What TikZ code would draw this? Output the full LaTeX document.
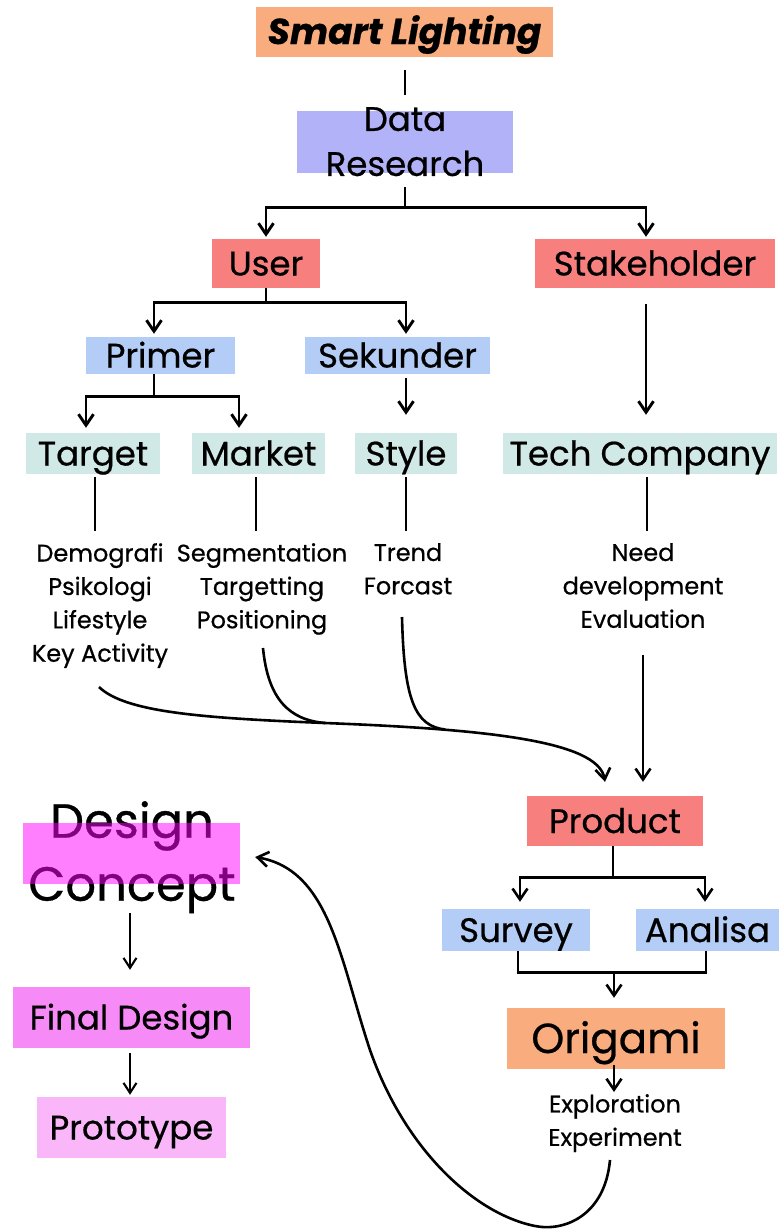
\documentclass[tikz,border=0pt]{standalone}
\usepackage{fontspec}
\setmainfont{Poppins}[FakeBold=0.6]
\usetikzlibrary{arrows.meta,calc}

\definecolor{peach}{HTML}{F9AC7E}
\definecolor{lavender}{HTML}{B2B2F8}
\definecolor{salmon}{HTML}{F77F7E}
\definecolor{skyblue}{HTML}{B3CDF7}
\definecolor{paleteal}{HTML}{D0E8E6}
\definecolor{vividpink}{RGB}{255,0,255}
\definecolor{finalpink}{HTML}{F68AF6}
\definecolor{protopink}{HTML}{F9B7F9}

\begin{document}
\begin{tikzpicture}[x=1pt,y=-1pt,
  box/.style={inner sep=0pt, font=\fontsize{34}{40}\selectfont,
              text height=24pt, text depth=0pt},
  listtext/.style={inner sep=0pt, anchor=north, align=center,
              font=\fontsize{24}{33.4}\selectfont},
  wire/.style={line width=2.6pt},
  topwire/.style={line width=2.9pt},
  tip/.style={-{Straight Barb[length=11pt,width=15pt]}},
  arr/.style={wire, tip},
  toparr/.style={topwire, tip},
  thinarr/.style={line width=2.1pt, -{Straight Barb[length=10pt,width=13pt]}}
]
\useasboundingbox[fill=white] (0,0) rectangle (779,1229);

% ---------- title and research ----------
\node[box, fill=peach, minimum width=297pt, minimum height=50pt,
      font=\fontsize{36}{40}\selectfont\bfseries\itshape] (sl) at (404.5,32) {Smart Lighting};
\node[inner sep=0pt, fill=lavender, minimum width=216pt, minimum height=62pt] (dr) at (405,142) {};
\node[listtext, font=\fontsize{34}{45}\selectfont] (drt) at (405,107) {Data\\Research};

% ---------- user / stakeholder ----------
\node[box, fill=salmon, minimum width=108pt, minimum height=49pt] (user) at (266,263.5) {User};
\node[box, fill=salmon, minimum width=240pt, minimum height=49pt] (stake) at (655,263.5) {Stakeholder};

\node[box, fill=skyblue, minimum width=149pt, minimum height=37pt] (primer) at (160.5,355.5) {Primer};
\node[box, fill=skyblue, minimum width=185pt, minimum height=37pt] (sek) at (397.5,355.5) {Sekunder};

\node[box, fill=paleteal, minimum width=134pt, minimum height=41pt] (target) at (93,453.5) {Target};
\node[box, fill=paleteal, minimum width=133pt, minimum height=41pt] (market) at (258.5,453.5) {Market};
\node[box, fill=paleteal, minimum width=102pt, minimum height=41pt] (style) at (406,453.5) {Style};
\node[box, fill=paleteal, minimum width=274pt, minimum height=41pt] (tech) at (640,453.5) {Tech Company};

\node[listtext] (demo) at (100,543) {Demografi\\Psikologi\\Lifestyle\\Key Activity};
\node[listtext] (seg) at (262,543) {Segmentation\\Targetting\\Positioning};
\node[listtext] (trend) at (408,543) {Trend\\Forcast};
\node[listtext] (need) at (643,543) {Need\\development\\Evaluation};

% ---------- product branch ----------
\node[box, fill=salmon, minimum width=176pt, minimum height=50pt] (product) at (615,821) {Product};
\node[box, fill=skyblue, minimum width=148pt, minimum height=42pt] (survey) at (516,930) {Survey};
\node[box, fill=skyblue, minimum width=143pt, minimum height=42pt] (analisa) at (707.5,930) {Analisa};
\node[box, fill=peach, minimum width=218pt, minimum height=61pt,
      font=\fontsize{42}{48}\selectfont, text height=29pt] (origami) at (616,1038.5) {Origami};
\node[listtext] (explo) at (615,1094) {Exploration\\Experiment};

% ---------- design column ----------
\node[listtext, font=\fontsize{48}{63}\selectfont] (dct) at (132,801) {Design\\Concept};
\node[inner sep=0pt, fill=vividpink, fill opacity=0.5, minimum width=217pt, minimum height=61pt] (dc) at (131.5,853.5) {};
\node[box, fill=finalpink, minimum width=237pt, minimum height=61pt,
      font=\fontsize{34}{40}\selectfont] (fd) at (131.5,1017.5) {Final Design};
\node[box, fill=protopink, minimum width=189pt, minimum height=61pt,
      font=\fontsize{34}{40}\selectfont] (proto) at (131.5,1127.5) {Prototype};

% ---------- connectors: upper tree ----------
\draw[topwire] ($(sl.south)+(0.5,13)$) -- ($(dr.north)+(0,-16)$);
\coordinate (f1) at ($(dr.south)+(0,34)$);
\draw[topwire] ($(dr.south)+(0,14)$) -- (f1);
\draw[toparr] (f1) -| ($(user.north)+(0,-2)$);
\draw[toparr] (f1) -| ($(stake.north)+(-9,-2)$);

\coordinate (f2) at ($(user.south)+(0,14)$);
\draw[topwire] (user.south) -- (f2);
\draw[toparr] (f2) -| ($(primer.north)+(-6.5,-3)$);
\draw[toparr] (f2) -| ($(sek.north)+(8.5,-3)$);

\draw[toparr] ($(stake.south)+(-9,16)$) -- ($(tech.north)+(6,-18)$);

\coordinate (f3) at ($(primer.south)+(-6.5,22)$);
\draw[topwire] ($(primer.south)+(-6.5,0)$) -- (f3);
\draw[toparr] (f3) -| ($(target.north)+(-7,-5)$);
\draw[toparr] (f3) -| ($(market.north)+(-19.5,-5)$);
\draw[toparr] ($(sek.south)+(8.5,4)$) -- ($(style.north)+(0,-18)$);

% ---------- connectors: boxes to lists ----------
\draw[wire] ($(target.south)+(2,3)$) -- ($(demo.north)+(-5,-12)$);
\draw[wire] ($(market.south)+(-2.5,3)$) -- ($(seg.north)+(-6,-12)$);
\draw[wire] ($(style.south)+(0,3)$) -- ($(trend.north)+(-2,-12)$);
\draw[wire] ($(tech.south)+(7,3)$) -- ($(need.north)+(4,-12)$);

% ---------- merging curves into product ----------
\coordinate (m1) at (325,723);
\coordinate (m2) at (445,729.5);
\draw[arr] ($(demo.north)+(-1,144)$) .. controls (125,712) and (200,718) .. (m1)
           .. controls (480,729) and (598,740) .. ($(product.north)+(-10,-14)$);
\draw[wire] ($(seg.north)+(1,105)$) .. controls (268,700) and (290,720) .. (m1);
\draw[wire] ($(trend.north)+(-6,74)$) .. controls (404,700) and (415,726) .. (m2);
\draw[arr] ($(need.north)+(0,112)$) -- ($(product.north)+(28,-14)$);

% ---------- product tree ----------
\coordinate (f4) at ($(product.south)+(-2,31)$);
\draw[wire] ($(product.south)+(-2,0)$) -- (f4);
\draw[arr] (f4) -| ($(survey.north)+(4,-7)$);
\draw[arr] (f4) -| ($(analisa.north)+(-2.5,-7)$);
\draw[wire] ($(survey.south)+(2,0)$) |- ($(analisa.south)+(-1.5,21)$) -- ($(analisa.south)+(-1.5,0)$);
\draw[arr] ($(origami.north)+(-2,-36)$) -- ($(origami.north)+(-2,-10)$);
\draw[arr] ($(origami.south)+(-2,-4)$) -- ($(explo.north)+(-1,-2)$);

% ---------- feedback loop to the design concept ----------
\draw[arr] ($(explo.north)+(-5,66)$) .. controls (605,1215) and (565,1232) .. (535,1226)
           .. controls (475,1214) and (405,1150) .. (370,1050)
           .. controls (340,960) and (330,870) .. ($(dc.east)+(15,3.5)$);

% ---------- design column arrows ----------
\draw[thinarr] ($(dc.south)+(-1.5,29)$) -- ($(fd.north)+(-1.5,-17)$);
\draw[thinarr] ($(fd.south)+(-1.5,5)$) -- ($(proto.north)+(-1.5,-2)$);
\end{tikzpicture}
\end{document}
